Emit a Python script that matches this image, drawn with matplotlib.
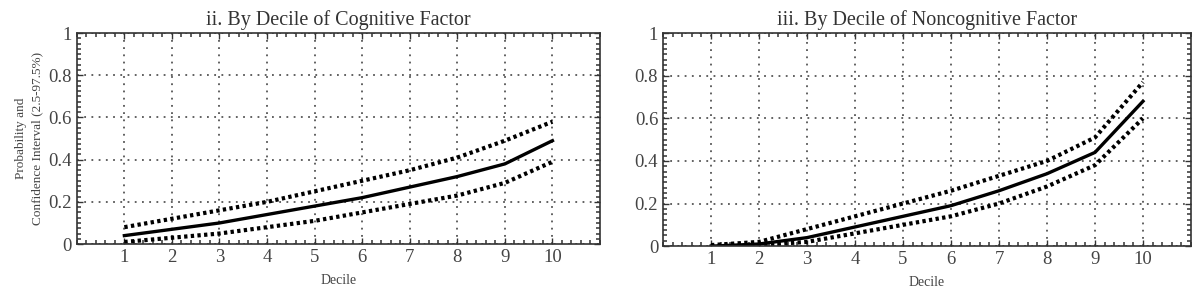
import matplotlib
matplotlib.use('Agg')
import matplotlib.pyplot as plt
from matplotlib.ticker import MultipleLocator

plt.rcParams['font.family'] = ['Liberation Serif', 'DejaVu Serif']

deciles = [1, 2, 3, 4, 5, 6, 7, 8, 9, 10]

# ii. cognitive factor
cog_mean = [0.04, 0.07, 0.10, 0.14, 0.18, 0.22, 0.27, 0.32, 0.38, 0.49]
cog_upper = [0.08, 0.12, 0.16, 0.20, 0.25, 0.30, 0.35, 0.41, 0.49, 0.58]
cog_lower = [0.01, 0.03, 0.05, 0.08, 0.11, 0.15, 0.19, 0.23, 0.29, 0.39]

# iii. noncognitive factor
non_mean = [0.0, 0.01, 0.04, 0.09, 0.14, 0.19, 0.26, 0.34, 0.44, 0.68]
non_upper = [0.005, 0.02, 0.08, 0.14, 0.20, 0.26, 0.33, 0.40, 0.51, 0.77]
non_lower = [0.0, 0.005, 0.02, 0.06, 0.10, 0.14, 0.20, 0.28, 0.38, 0.60]

titles = ['ii. By Decile of Cognitive Factor', 'iii. By Decile of Noncognitive Factor']
ylabel = 'Probability and\nConfidence Interval (2.5-97.5%)'

fig = plt.figure(figsize=(12, 2.98), dpi=100)
ax1 = fig.add_axes([0.064, 0.181, 0.436, 0.708])
ax2 = fig.add_axes([0.5525, 0.174, 0.44, 0.715])

panels = [(ax1, cog_mean, cog_upper, cog_lower), (ax2, non_mean, non_upper, non_lower)]
for i, (ax, m, up, lo) in enumerate(panels):
    ax.plot(deciles, up, color='black', linestyle=(0, (0.8, 0.8)), linewidth=3)
    ax.plot(deciles, lo, color='black', linestyle=(0, (0.8, 0.8)), linewidth=3)
    ax.plot(deciles, m, color='black', linewidth=2.4)
    ax.set_xlim(0, 11)
    ax.set_ylim(0, 1)
    ax.set_xticks(deciles)
    ax.set_yticks([0, 0.2, 0.4, 0.6, 0.8, 1])
    ax.set_yticklabels(['0', '0.2', '0.4', '0.6', '0.8', '1'])
    ax.xaxis.set_minor_locator(MultipleLocator(0.2))
    ax.yaxis.set_minor_locator(MultipleLocator(0.025))
    ax.tick_params(which='both', direction='in', top=True, right=True, colors='#333333',
                   labelcolor='#444444', labelsize=13.5)
    ax.tick_params(which='major', length=4, width=1)
    ax.tick_params(which='minor', length=3, width=1.1)
    ax.grid(True, which='major', linestyle=(0, (1, 3)), color='#555555', linewidth=1.3)
    for s in ax.spines.values():
        s.set_color('#333333')
        s.set_linewidth(1.2)
    ax.set_title(titles[i], fontsize=14.5, color='#333333', pad=6)
    ax.set_xlabel('Decile', fontsize=10, color='#444444', labelpad=6)

ax1.set_ylabel(ylabel, fontsize=9.5, color='#444444', labelpad=4, linespacing=1.4)

fig.savefig('out.png', dpi=100)
